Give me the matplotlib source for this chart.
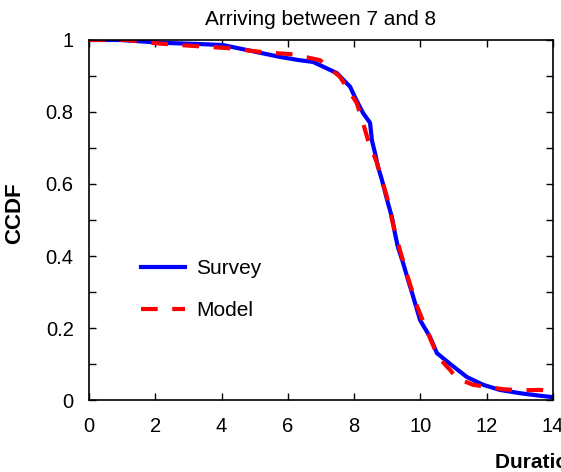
import matplotlib
matplotlib.use("Agg")
import matplotlib.pyplot as plt
from matplotlib.ticker import MultipleLocator, FuncFormatter

plt.rcParams['font.family'] = ['Liberation Sans', 'DejaVu Sans']

# Survey CCDF
survey_x = [0, 0.94, 2.23, 3.26, 4.04, 4.77, 5.76, 6.34, 6.76, 6.97, 7.48, 7.88,
            8.03, 8.27, 8.48, 8.54, 8.63, 8.72, 8.84, 9.02, 9.14, 9.23, 9.32,
            9.48, 9.6, 9.75, 9.99, 10.29, 10.5, 10.9, 11.4, 11.9, 12.4, 13.0,
            13.6, 14.0]
survey_y = [1.0, 1.0, 0.992, 0.989, 0.986, 0.972, 0.953, 0.944, 0.939, 0.93,
            0.908, 0.87, 0.84, 0.797, 0.77, 0.72, 0.686, 0.648, 0.611, 0.547,
            0.508, 0.464, 0.425, 0.38, 0.342, 0.297, 0.222, 0.175, 0.13, 0.10,
            0.064, 0.042, 0.028, 0.019, 0.012, 0.008]

# Model CCDF
model_x = [0, 1.15, 2.14, 3.05, 4.25, 5.25, 6.16, 6.97, 7.57, 8.08, 8.24, 8.42,
           8.69, 8.99, 9.17, 9.38, 9.63, 9.9, 10.23, 10.53, 10.9, 11.1, 11.6,
           12.5, 13.0, 13.6, 14.0]
model_y = [1.0, 1.0, 0.99, 0.984, 0.977, 0.966, 0.96, 0.944, 0.898, 0.825,
           0.778, 0.722, 0.658, 0.564, 0.49, 0.417, 0.338, 0.26, 0.185, 0.12,
           0.083, 0.06, 0.042, 0.03, 0.027, 0.028, 0.025]

fig = plt.figure(figsize=(5.61, 4.72), dpi=100)
ax = fig.add_axes([0.1586, 0.1525, 0.8271, 0.7628])

ax.plot(survey_x, survey_y, color='#0000ff', lw=3, label='Survey')
ax.plot(model_x, model_y, color='#ff0000', lw=3, dashes=(4, 3.5), label='Model')

ax.set_xlim(0, 14)
ax.set_ylim(0, 1)
ax.xaxis.set_major_locator(MultipleLocator(2))
ax.yaxis.set_major_locator(MultipleLocator(0.2))
ax.yaxis.set_minor_locator(MultipleLocator(0.1))
ax.yaxis.set_major_formatter(FuncFormatter(lambda v, p: '%g' % round(v, 2)))
ax.tick_params(which='both', direction='in', top=True, right=True,
               labelsize=14.5, width=1, length=5)
ax.tick_params(axis='x', pad=12)
ax.tick_params(axis='y', pad=11)
for s in ax.spines.values():
    s.set_linewidth(1.2)

ax.set_title('Arriving between 7 and 8', fontsize=15, pad=11)
ax.set_ylabel('CCDF', fontsize=16, fontweight='bold')
ax.yaxis.set_label_coords(-0.138, 0.52)
fig.text(495 / 561, 1 - 463 / 472, 'Duration (hours)', fontsize=15,
         fontweight='bold', ha='left', va='center')

ax.legend(loc='center left', bbox_to_anchor=(0.112, 0.306), frameon=False,
          fontsize=15, handlelength=2.1, handletextpad=0.55, labelspacing=1.1,
          borderpad=0, borderaxespad=0)

fig.savefig('out.png', dpi=100)
